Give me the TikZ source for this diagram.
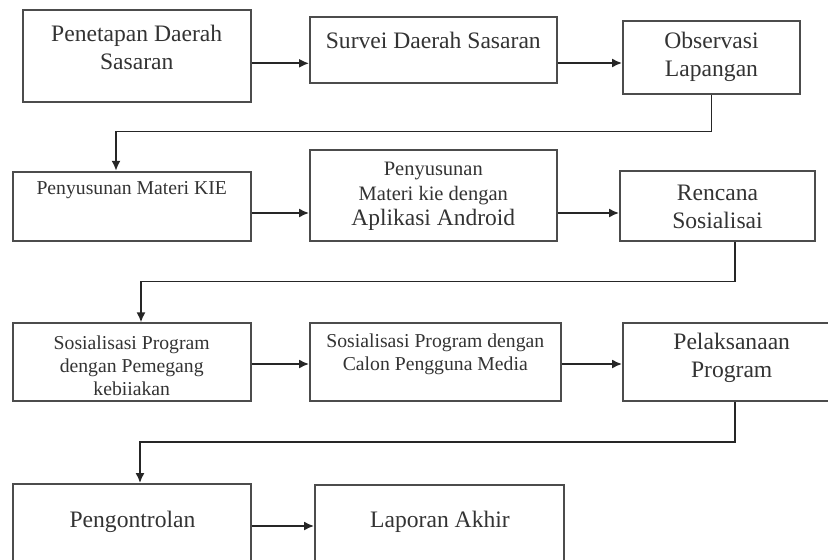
\documentclass[tikz,border=0pt]{standalone}
\usepackage{fontspec}
\setmainfont{Liberation Serif}
\usepackage{tikz}
\usetikzlibrary{arrows.meta}
\def\besar{\fontsize{23.6}{28}\selectfont}
\def\kecil{\fontsize{19.7}{23}\selectfont}
\begin{document}
\begin{tikzpicture}[x=1pt,y=-1pt,
  kotak/.style={draw=black!70, line width=1.8pt, inner sep=0pt},
  teks/.style={text=black!80, align=center, inner sep=0pt},
  panah/.style={draw=black!85, line width=1.8pt, -{Latex[length=10pt,width=9pt]}}]
  \useasboundingbox (0,0) rectangle (828,560);
  \clip (0,0) rectangle (828,560);

  \node[kotak, minimum width=228, minimum height=91.7] (b1) at (136.7,55.85) {};
  \node[kotak, minimum width=246.7, minimum height=66] (b2) at (433.35,50) {};
  \node[kotak, minimum width=177, minimum height=73.3] (b3) at (711.5,57.35) {};
  \node[kotak, minimum width=238, minimum height=69] (b4) at (131.7,206.2) {};
  \node[kotak, minimum width=246.7, minimum height=90.7] (b5) at (433.35,195.35) {};
  \node[kotak, minimum width=195, minimum height=69.7] (b6) at (717.5,205.85) {};
  \node[kotak, minimum width=238, minimum height=77.4] (b7) at (131.7,362) {};
  \node[kotak, minimum width=250.7, minimum height=77.4] (b8) at (435.35,362) {};
  \node[kotak, minimum width=217, minimum height=77.4] (b9) at (731.5,362) {};
  \node[kotak, minimum width=238, minimum height=96] (b10) at (131.7,532) {};
  \node[kotak, minimum width=249.3, minimum height=95] (b11) at (439.65,532.5) {};

  \node[teks, font=\besar] (t1) at (136.7,47.5) {Penetapan Daerah\\Sasaran};
  \node[teks, font=\besar] (t2) at (433.3,40) {Survei Daerah Sasaran};
  \node[teks, font=\besar] (t3) at (711.5,56.5) {Observasi\\Lapangan};
  \node[teks, font=\kecil] (t4) at (131.7,190) {Penyusunan Materi KIE};
  \node[teks, font=\fontsize{20.5}{25}\selectfont] (t5) at (433.3,196.7)
    {Penyusunan\\Materi kie dengan\\{\fontsize{23.5}{25}\selectfont Aplikasi Android}};
  \node[teks, font=\besar] (t6) at (717.5,206.5) {Rencana\\Sosialisai};
  \node[teks, font=\kecil] (t7) at (131.7,365.5) {Sosialisasi Program\\dengan Pemegang\\kebiiakan};
  \node[teks, font=\kecil] (t8) at (435.3,354.7) {Sosialisasi Program dengan\\Calon Pengguna Media};
  \node[teks, font=\besar] (t9) at (731.7,358) {Pelaksanaan\\Program};
  \node[teks, font=\besar] (t10) at (132.5,521.7) {Pengontrolan};
  \node[teks, font=\besar] (t11) at (440,521.7) {Laporan Akhir};

  \draw[panah] (b1.east |- 0,63.3) -- (b2.west |- 0,63.3);
  \draw[panah] (b2.east |- 0,63) -- (b3.west |- 0,63);
  \draw[panah] (b4.east |- 0,213) -- (b5.west |- 0,213);
  \draw[panah] (b5.east |- 0,213) -- (b6.west |- 0,213);
  \draw[panah] (b7.east |- 0,364) -- (b8.west |- 0,364);
  \draw[panah] (b8.east |- 0,364) -- (b9.west |- 0,364);
  \draw[panah] (b10.east |- 0,526) -- (b11.west |- 0,526);

  \coordinate (k1a) at (711.5,131.5);
  \coordinate (k1b) at (116,131.5);
  \coordinate (k2a) at (735,281.5);
  \coordinate (k2b) at (141,281.5);
  \coordinate (k3a) at (735,441.7);
  \coordinate (k3b) at (140,441.7);
  \draw[panah] (b3.south) -- (k1a) -- (k1b) -- (k1b |- b4.north);
  \draw[panah] (k2a |- b6.south) -- (k2a) -- (k2b) -- (k2b |- b7.north);
  \draw[panah] (k3a |- b9.south) -- (k3a) -- (k3b) -- (k3b |- b10.north);
\end{tikzpicture}
\end{document}
